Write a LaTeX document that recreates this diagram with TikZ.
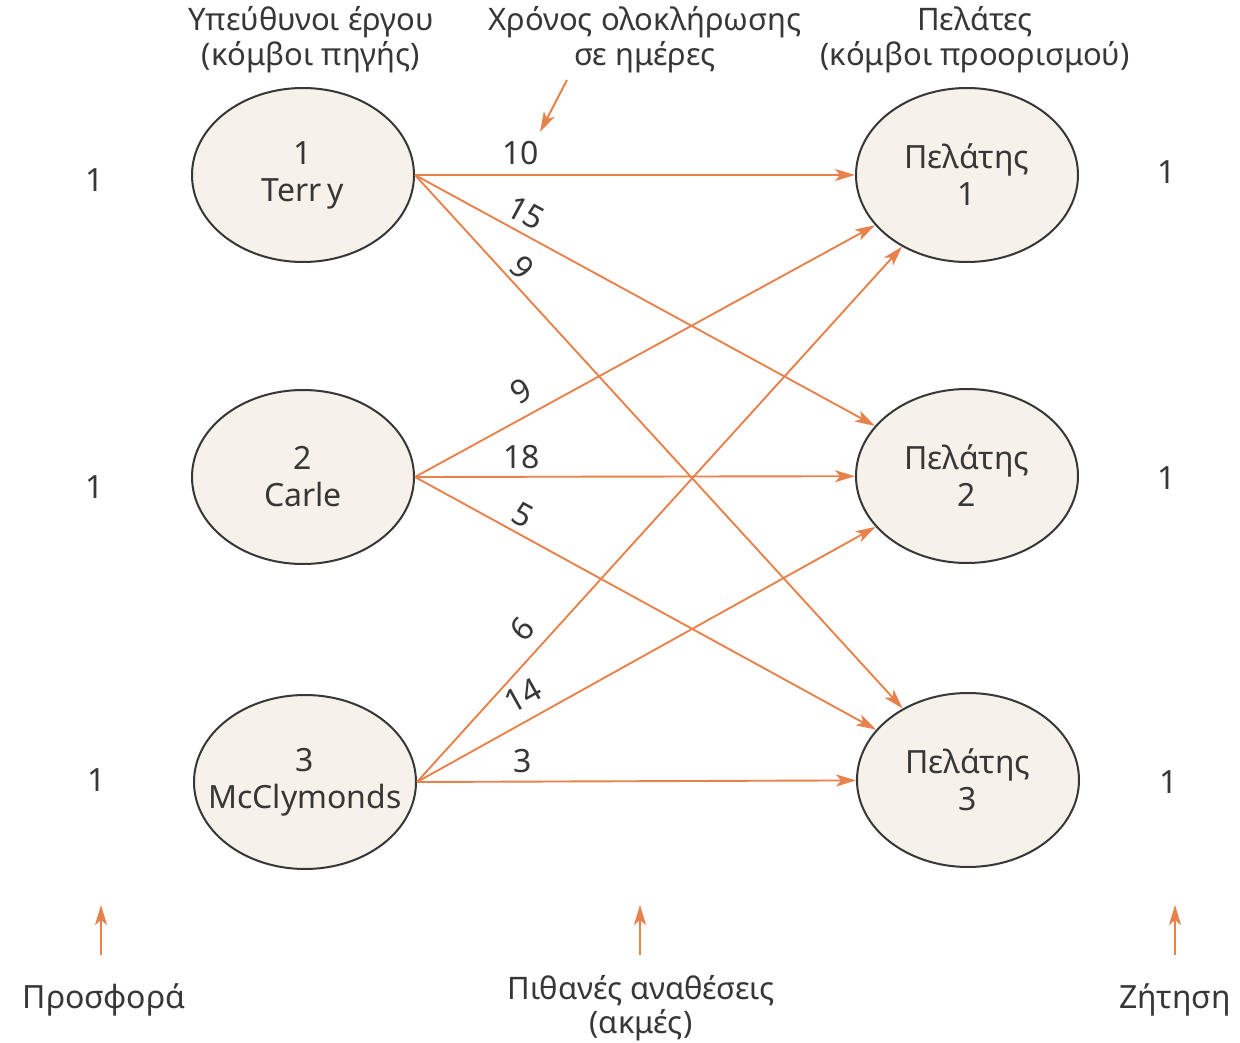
\documentclass[tikz,border=0pt]{standalone}
\usepackage{fontspec}
\setmainfont{Noto Sans}
\usetikzlibrary{shapes.geometric,arrows.meta}
\definecolor{edgeorange}{RGB}{232,130,76}
\definecolor{nodefill}{RGB}{246,241,233}
\definecolor{inkgrey}{RGB}{55,55,55}
\begin{document}
\begin{tikzpicture}[x=1pt,y=-1pt,
  every node/.style={text=inkgrey, font=\fontsize{32}{37}\selectfont},
  party/.style={ellipse, draw=inkgrey, line width=2pt, fill=nodefill,
    minimum width=222pt, minimum height=174pt,
    inner xsep=-45pt, inner ysep=0pt, align=center},
  link/.style={draw=edgeorange, line width=1.9pt,
    -{Stealth[length=20pt,width=12pt,inset=5pt]}},
  cost/.style={sloped, inner sep=1pt, above=#1},
  cost/.default=6pt,
  caption/.style={align=center, font=\fontsize{31}{34}\selectfont},
  pointer/.style={draw=edgeorange, line width=2pt,
    -{Stealth[length=20pt,width=12pt,inset=5pt]}}]
\useasboundingbox (0,0) rectangle (1240,1043);
\fill[white] (0,0) rectangle (1240,1043);

% column headings
\node[caption, font=\fontsize{31}{35}\selectfont] (hsrc) at (311,40) {Υπεύθυνοι έργου\\(κόμβοι πηγής)};
\node[caption, font=\fontsize{31}{35}\selectfont] (htime) at (645,40) {Χρόνος ολοκλήρωσης\\σε ημέρες};
\node[caption, font=\fontsize{31}{35}\selectfont] (hdst) at (975,40) {Πελάτες\\(κόμβοι προορισμού)};

% project leaders (sources) and clients (destinations)
\node[party] (s1) at (303,175) {1\\Terr\kern.18em y};
\node[party] (s2) at (303,477) {2\\Carle};
\node[party] (s3) at (305,782) {3\\McClymonds};
\node[party] (c1) at (967,175) {Πελάτης\\1};
\node[party] (c2) at (967,476) {Πελάτης\\2};
\node[party] (c3) at (968,780) {Πελάτης\\3};

% supply and demand values
\node (supply1) at (95,180) {1};
\node (supply2) at (95,487) {1};
\node (supply3) at (97,780) {1};
\node (demand1) at (1167,172) {1};
\node (demand2) at (1167,478) {1};
\node (demand3) at (1169,782) {1};

% possible assignments with completion times
\draw[link] (s1.east) -- node[cost=8pt, pos=0.24] {10} (c1);
\draw[link] (s1.east) -- node[cost=6pt, pos=0.22] {15} (c2);
\draw[link] (s1.east) -- node[cost=3pt, pos=0.195] {9} (c3);
\draw[link] (s2.east) -- node[cost=11pt, pos=0.257] {9} (c1);
\draw[link] (s2.east) -- node[cost=6pt, pos=0.243] {18} (c2);
\draw[link] (s2.east) -- node[cost=5pt, pos=0.215] {5} (c3);
\draw[link] (s3.east) -- node[cost=11pt, pos=0.254] {6} (c1);
\draw[link] (s3.east) -- node[cost=11pt, pos=0.257] {14} (c2);
\draw[link] (s3.east) -- node[cost=7pt, pos=0.24] {3} (c3);

% pointer to the edge weights
\coordinate (timeTail) at (567,80);
\coordinate (timeTip) at (540,132);
\draw[pointer] (timeTail) -- (timeTip);

% bottom captions with their pointers
\node (supplyCap) at (104,1000) {Προσφορά};
\node[caption] (edgeCap) at (641,1008) {Πιθανές αναθέσεις\\(ακμές)};
\node (demandCap) at (1175,1000) {Ζήτηση};
\coordinate (supplyBase) at (101,955);
\coordinate (supplyTip) at (101,905);
\coordinate (edgeBase) at (640,955);
\coordinate (edgeTip) at (640,905);
\coordinate (demandBase) at (1175,955);
\coordinate (demandTip) at (1175,905);
\draw[pointer] (supplyBase) -- (supplyTip);
\draw[pointer] (edgeBase) -- (edgeTip);
\draw[pointer] (demandBase) -- (demandTip);
\end{tikzpicture}
\end{document}
